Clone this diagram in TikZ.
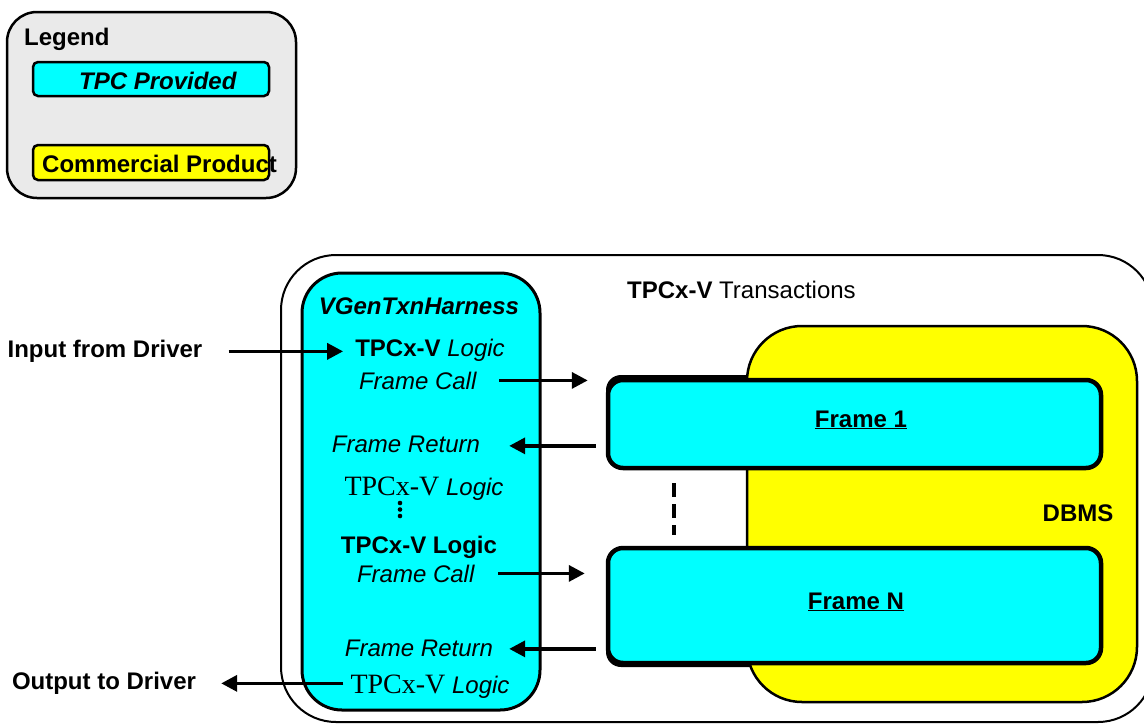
\documentclass[tikz,border=0pt]{standalone}
\usepackage{fontspec}
\setmainfont{Liberation Sans}
\newfontfamily\seriffam{Liberation Serif}
\usetikzlibrary{arrows.meta}
\definecolor{cyanf}{RGB}{0,255,255}
\definecolor{yellowf}{RGB}{255,255,0}
\definecolor{lgray}{RGB}{234,234,234}
\newcommand{\stpc}{{\seriffam\fontsize{28}{30}\selectfont TPCx-V}}
\begin{document}
\begin{tikzpicture}[x=1pt,y=-1pt,
  txt/.style={inner sep=0pt, anchor=base, font=\fontsize{24}{28}\selectfont},
  arr/.style={line width=3.5pt, -{Triangle[length=16pt,width=16pt]}},
  box/.style={draw, inner sep=0pt},
  framebox/.style={box, line width=4.5pt, fill=cyanf, rounded corners=15pt, minimum width=493pt},
  legbox/.style={box, line width=2.5pt, rounded corners=5pt, minimum width=236pt}
]
\useasboundingbox (0,0) rectangle (1144,724);
\clip (0,0) rectangle (1144,724);

% legend
\node[box, line width=2.5pt, fill=lgray, rounded corners=30pt, minimum width=289pt, minimum height=186pt] (leg) at (151.5,105) {};
\node[txt, anchor=base west] (legt) at (24,45) {\textbf{Legend}};
\node[legbox, fill=cyanf, minimum height=34pt] (tpcbox) at (151,79) {};
\node[txt] (tpct) at (158,89) {\textbf{\textit{TPC Provided}}};
\node[legbox, fill=yellowf, minimum height=35pt] (combox) at (151,162.5) {};
\node[txt, anchor=base west] (comt) at (42,172) {\textbf{Commercial Product}};

% outer transactions box
\node[box, line width=2pt, rounded corners=55pt, minimum width=872pt, minimum height=467pt] (outer) at (717,488.5) {};
\node[txt, anchor=base west] (trans) at (627,298) {\textbf{TPCx-V} Transactions};

% frame shadows
\fill[rounded corners=15pt] (606,375) rectangle (1099,463);
\fill[rounded corners=15pt] (606,552) rectangle (1099,667);

% DBMS
\node[box, line width=2.5pt, fill=yellowf, rounded corners=55pt, minimum width=390pt, minimum height=376pt] (dbms) at (942,514) {};
\node[txt] (dbmst) at (1078,521) {\textbf{DBMS}};

% frames
\node[framebox, minimum height=88pt] (f1) at (854.5,424) {};
\node[txt] (f1t) at (861,427) {\textbf{\underline{Frame 1}}};
\node[framebox, minimum height=115pt] (f2) at (854.5,605.5) {};
\node[txt] (f2t) at (856,609) {\textbf{\underline{Frame N}}};
\draw[line width=4pt, dash pattern=on 14pt off 7pt] ([xshift=68pt,yshift=-13pt]f1.south west) -- ([xshift=68pt,yshift=11pt]f2.north west);

% harness
\node[box, line width=3pt, fill=cyanf, rounded corners=40pt, minimum width=238pt, minimum height=437pt] (harn) at (421,491.5) {};
\node[txt] (ht) at (419,314) {\textbf{\textit{VGenTxnHarness}}};
\node[txt] (l1) at (430,356) {\textbf{TPCx-V} \textit{Logic}};
\node[txt] (fc1) at (418,389) {\textit{Frame Call}};
\node[txt] (fr1) at (406,452) {\textit{Frame Return}};
\node[txt] (l2) at (424,495) {\stpc\ \textit{Logic}};
\fill (400,503) circle (2.3);
\fill (400,509.5) circle (2.3);
\fill (400,516) circle (2.3);
\node[txt] (l3) at (419,553) {\textbf{TPCx-V Logic}};
\node[txt] (fc2) at (416,582) {\textit{Frame Call}};
\node[txt] (fr2) at (419,656) {\textit{Frame Return}};
\node[txt] (l4) at (430,693) {\stpc\ \textit{Logic}};

% driver labels
\node[txt] (in) at (105,357) {\textbf{Input from Driver}};
\node[txt] (out) at (104,689) {\textbf{Output to Driver}};

% connectors
\draw[arr, shorten <=26pt, shorten >=12pt] ([yshift=3pt]in.mid east) -- ([yshift=3pt]in.mid east -| l1.west);
\draw[arr, shorten <=22pt, shorten >=18pt] (fc1.east) -- (fc1.east -| f1.west);
\draw[arr, shorten <=10pt, shorten >=29pt] ([yshift=-2pt]fr1.east -| f1.west) -- ([yshift=-2pt]fr1.east);
\draw[arr, shorten <=23pt, shorten >=21pt] (fc2.east) -- (fc2.east -| f2.west);
\draw[arr, shorten <=10pt, shorten >=16pt] ([yshift=-1pt]fr2.east -| f2.west) -- ([yshift=-1pt]fr2.east);
\draw[arr, shorten <=7pt, shorten >=25pt] ([yshift=3pt]out.mid east -| l4.west) -- ([yshift=3pt]out.mid east);
\end{tikzpicture}
\end{document}
